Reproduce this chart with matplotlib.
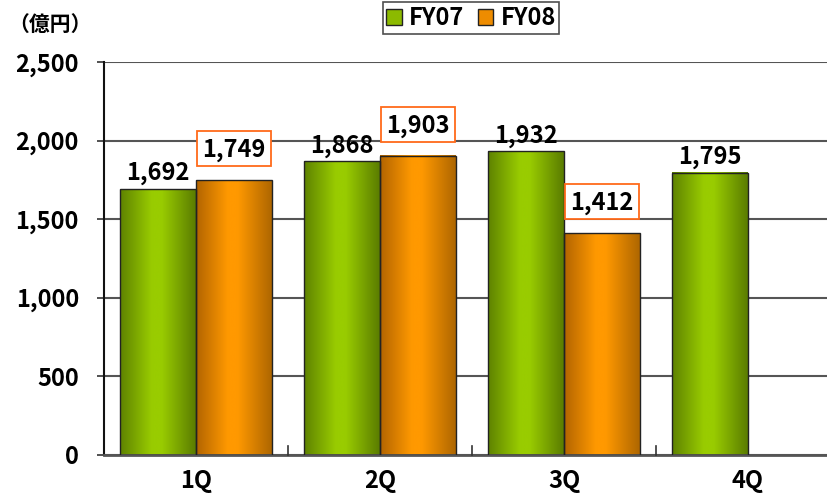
import numpy as np
import matplotlib
matplotlib.use("Agg")
import matplotlib.pyplot as plt
from matplotlib.colors import LinearSegmentedColormap
from matplotlib.patches import Patch, Rectangle

plt.rcParams['font.family'] = ['Noto Sans CJK JP', 'DejaVu Sans']

categories = ['1Q', '2Q', '3Q', '4Q']
fy07 = [1692, 1868, 1932, 1795]
fy08 = [1749, 1903, 1412, None]
series_names = ['FY07', 'FY08']
yticks = [0, 500, 1000, 1500, 2000, 2500]
unit_label = '（億円）'

green_cmap = LinearSegmentedColormap.from_list(
    'g', [(0, '#5e8200'), (0.42, '#99cc00'), (0.55, '#99cc00'), (1, '#5a7c00')])
orange_cmap = LinearSegmentedColormap.from_list(
    'o', [(0, '#b26400'), (0.42, '#ff9900'), (0.55, '#ff9900'), (1, '#ae6600')])

fig = plt.figure(figsize=(8.28, 4.99), dpi=100)
ax = fig.add_axes([104/828, 44/499, 1 - 104/828, (455-62)/499])

bw = 0.413
x = np.arange(len(categories))
grad = np.linspace(0, 1, 256).reshape(1, -1)
u = 2500/393  # data units per pixel
FS = 17

def draw_bar(xc, h, cmap):
    x0, x1 = xc - bw/2, xc + bw/2
    ax.imshow(grad, cmap=cmap, extent=(x0, x1, 0, h), aspect='auto', zorder=2,
              interpolation='bicubic')
    ax.bar(xc, h, width=bw, facecolor='none', edgecolor='#222222', linewidth=1.0, zorder=3)

for i in range(len(categories)):
    v7 = fy07[i]
    v8 = fy08[i]
    xc7 = x[i] - bw/2
    xc8 = x[i] + bw/2
    if v7 is not None:
        draw_bar(xc7, v7, green_cmap)
        ax.text(xc7, v7 + 9*u, f'{v7:,}', ha='center', va='baseline', fontsize=FS,
                fontweight='bold', zorder=5)
    if v8 is not None:
        draw_bar(xc8, v8, orange_cmap)
        box_bottom = v8 + 14*u
        ax.add_patch(Rectangle((xc8 - bw/2 + 0.005, box_bottom), bw - 0.01, 35*u,
                               facecolor='white', edgecolor='#ff6a1a', linewidth=1.3,
                               zorder=4))
        ax.text(xc8, v8 + 23*u, f'{v8:,}', ha='center', va='baseline', fontsize=FS,
                fontweight='bold', zorder=5)

ax.set_xlim(-0.5, (828-104)/184 - 0.5)
ax.set_ylim(0, 2500)
ax.set_yticks(yticks)
ax.set_yticklabels([f'{t:,}' for t in yticks], fontsize=FS, fontweight='bold')
ax.yaxis.grid(True, color='#555555', linewidth=1.5, zorder=0)
ax.set_axisbelow(True)
ax.tick_params(axis='y', length=5, width=1.2, color='#333333', pad=13, direction='out')

ax.set_xticks(x)
ax.set_xticklabels(categories, fontsize=FS, fontweight='bold')
ax.tick_params(axis='x', length=0, pad=10)
for b in x[:-1] + 0.5:
    ax.plot([b, b], [0, 60], color='#333333', linewidth=1.2, zorder=4, clip_on=False)

for s in ['top', 'right']:
    ax.spines[s].set_visible(False)
ax.spines['left'].set_color('#111111')
ax.spines['left'].set_linewidth(1.5)
ax.spines['bottom'].set_color('#555555')
ax.spines['bottom'].set_linewidth(2)

fig.text(8/828, 1 - 24/499, unit_label, fontsize=15, fontweight='bold', va='center', ha='left')

handles = [Patch(facecolor='#8cba00', edgecolor='#222222', label=series_names[0]),
           Patch(facecolor='#ee8c00', edgecolor='#222222', label=series_names[1])]
leg = fig.legend(handles=handles, loc='center', bbox_to_anchor=(471/828, 1 - 18/499),
                 ncol=2, frameon=True, fancybox=False, edgecolor='#222222',
                 prop={'size': FS, 'weight': 'bold'}, handlelength=0.65, handleheight=0.65,
                 handletextpad=0.3, columnspacing=0.6, borderpad=0.15)
leg.get_frame().set_linewidth(1.2)

fig.savefig('out.png', dpi=100)
